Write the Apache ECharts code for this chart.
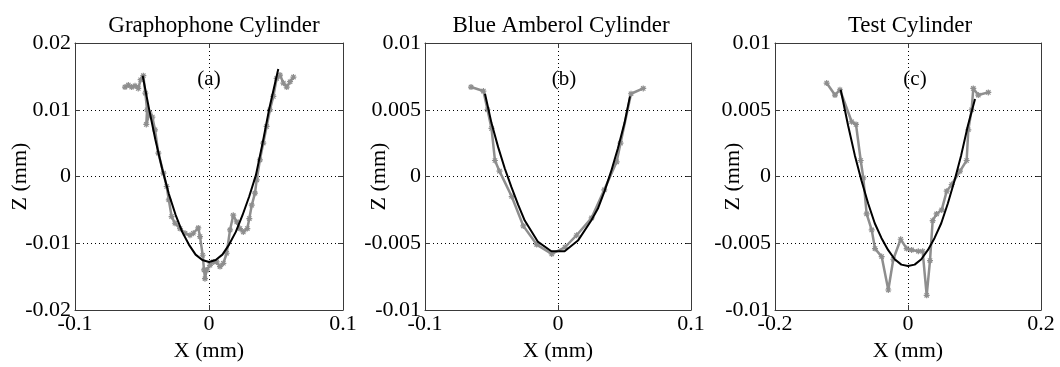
<!DOCTYPE html>
<html>
<head>
<meta charset="utf-8">
<script src="https://cdn.jsdelivr.net/npm/echarts@6/dist/echarts.min.js"></script>
<style>html,body{margin:0;padding:0;background:#fff}#c{width:1060px;height:367px}</style>
</head>
<body>
<div id="c"></div>
<script>
// ---- Panel titles / labels ----
var panelTitles = ['Graphophone Cylinder', 'Blue Amberol Cylinder', 'Test Cylinder'];
var panelTags = ['(a)', '(b)', '(c)'];
var xAxisName = 'X (mm)';
var yAxisName = 'Z (mm)';

// ---- Axis ranges ----
var xMin = [-0.1, -0.1, -0.2], xMax = [0.1, 0.1, 0.2], xStep = [0.1, 0.1, 0.2];
var yMin = [-0.02, -0.01, -0.01], yMax = [0.02, 0.01, 0.01], yStep = [0.01, 0.005, 0.005];

// ---- Panel (a) measured profile ----
var aMeasX = [-0.0627,-0.0602,-0.0577,-0.0552,-0.0528,-0.0510,-0.0490,-0.0475,-0.0462,-0.0468,-0.0443,-0.0423,-0.0403,-0.0378,-0.0340,-0.0316,-0.0300,-0.0279,-0.0254,-0.0216,-0.0179,-0.0142,-0.0117,-0.0080,-0.0067,-0.0047,-0.0037,-0.0030,-0.0017,0.0007,0.0032,0.0057,0.0082,0.0107,0.0132,0.0157,0.0181,0.0207,0.0231,0.0256,0.0286,0.0301,0.0319,0.0343,0.0356,0.0380,0.0405,0.0430,0.0455,0.0480,0.0505,0.0530,0.0555,0.0580,0.0605,0.0630];
var aMeasZ = [0.0134,0.0137,0.0134,0.0136,0.0132,0.0145,0.0151,0.0125,0.0100,0.0078,0.0095,0.0089,0.0070,0.0035,0.0005,-0.0015,-0.0035,-0.0060,-0.0070,-0.0078,-0.0085,-0.0088,-0.0085,-0.0077,-0.0090,-0.0118,-0.0140,-0.0153,-0.0140,-0.0133,-0.0128,-0.0128,-0.0135,-0.0130,-0.0115,-0.0080,-0.0058,-0.0068,-0.0078,-0.0083,-0.0078,-0.0063,-0.0043,-0.0025,-0.0005,0.0025,0.0050,0.0075,0.0100,0.0120,0.0147,0.0152,0.0140,0.0134,0.0142,0.0149];
// ---- Panel (a) fitted curve ----
var aFitX = [-0.0495,-0.045,-0.040,-0.035,-0.030,-0.025,-0.020,-0.015,-0.010,-0.005,0,0.005,0.010,0.015,0.020,0.025,0.030,0.035,0.040,0.045,0.0517];
var aFitZ = [0.0151,0.0104,0.0055,0.0012,-0.0026,-0.0057,-0.0083,-0.0102,-0.0117,-0.0125,-0.0128,-0.0125,-0.0117,-0.0102,-0.0083,-0.0058,-0.0030,0.0002,0.0050,0.0102,0.0161];

// ---- Panel (b) measured profile ----
var bMeasX = [-0.0654,-0.0561,-0.0530,-0.0500,-0.0474,-0.0440,-0.0348,-0.0261,-0.0160,-0.0047,0.0053,0.0140,0.0253,0.0348,0.0441,0.0470,0.0549,0.0641];
var bMeasZ = [0.0067,0.0064,0.0050,0.0036,0.0012,0.0004,-0.0015,-0.0037,-0.0051,-0.0058,-0.0053,-0.0044,-0.0031,-0.0010,0.0011,0.0025,0.0062,0.0066];
// ---- Panel (b) fitted curve ----
var bFitX = [-0.0549,-0.050,-0.045,-0.040,-0.035,-0.030,-0.025,-0.020,-0.015,-0.005,0.005,0.015,0.025,0.030,0.035,0.040,0.045,0.050,0.0541];
var bFitZ = [0.0062,0.0040,0.0022,0.0006,-0.0008,-0.0021,-0.0033,-0.0041,-0.0049,-0.0056,-0.0056,-0.0048,-0.0033,-0.0024,-0.0011,0.0004,0.0021,0.0040,0.0060];

// ---- Panel (c) measured profile ----
var cMeasX = [-0.1223,-0.1098,-0.1023,-0.0847,-0.0782,-0.0711,-0.0672,-0.0622,-0.0546,-0.0496,-0.0396,-0.0296,-0.0221,-0.0110,-0.0020,0.0055,0.0155,0.0220,0.0281,0.0331,0.0371,0.0430,0.0507,0.0582,0.0657,0.0782,0.0882,0.0907,0.0957,0.0982,0.1057,0.1208];
var cMeasZ = [0.0070,0.0061,0.0065,0.0041,0.0039,0.0012,-0.0001,-0.0028,-0.0040,-0.0054,-0.0060,-0.0085,-0.0062,-0.0047,-0.0054,-0.0055,-0.0056,-0.0056,-0.0089,-0.0063,-0.0033,-0.0028,-0.0025,-0.0011,-0.0006,0.0004,0.0012,0.0035,0.0050,0.0066,0.0061,0.0063];
// ---- Panel (c) fitted curve ----
var cFitX = [-0.1012,-0.090,-0.080,-0.070,-0.060,-0.050,-0.040,-0.030,-0.020,-0.010,0,0.010,0.020,0.030,0.040,0.050,0.060,0.070,0.080,0.090,0.1008];
var cFitZ = [0.0065,0.0038,0.0016,-0.0003,-0.0020,-0.0035,-0.0046,-0.0055,-0.0062,-0.0066,-0.0067,-0.0066,-0.0062,-0.0055,-0.0046,-0.0035,-0.0020,-0.0003,0.0016,0.0038,0.0058];

function zip(xs, zs) { return xs.map(function (x, i) { return [x, zs[i]]; }); }

var measured = [zip(aMeasX, aMeasZ), zip(bMeasX, bMeasZ), zip(cMeasX, cMeasZ)];
var fitted = [zip(aFitX, aFitZ), zip(bFitX, bFitZ), zip(cFitX, cFitZ)];

var FONT = 'Liberation Serif';
var FS = 22;
var BOX = '#3a3a3a';
var GRAY = '#8e8e8e';

var gridLefts = [75, 425, 775];
var gridW = [268, 266, 266];
var gridTop = 43, gridH = 267;
var tagCenters = [204, 559, 910];
var titleCenters = [209, 556, 905];
var yNameGaps = [44, 35, 31];

var grids = [], xAxes = [], yAxes = [], series = [], titles = [];
var asterisk = 'path://M0,-5L0,5M-5,0L5,0M-3.6,-3.6L3.6,3.6M-3.6,3.6L3.6,-3.6';

for (var i = 0; i < 3; i++) {
  grids.push({ left: gridLefts[i], top: gridTop, width: gridW[i], height: gridH, show: false, containLabel: false });
  var gridLine = { show: true, lineStyle: { color: '#000', type: [1, 3], width: 1 } };
  xAxes.push({
    gridIndex: i, type: 'value', min: xMin[i], max: xMax[i], interval: xStep[i], position: 'bottom',
    name: xAxisName, nameLocation: 'middle', nameGap: 30, nameMoveOverlap: false,
    nameTextStyle: { fontFamily: FONT, fontSize: FS, color: '#000' },
    axisLine: { show: true, onZero: false, lineStyle: { color: BOX, width: 1 } },
    axisTick: { show: true, inside: true, length: 5, lineStyle: { color: BOX } },
    axisLabel: { fontFamily: FONT, fontSize: FS, color: '#000', margin: 3 },
    splitLine: gridLine
  });
  xAxes.push({
    gridIndex: i, type: 'value', min: xMin[i], max: xMax[i], interval: xStep[i], position: 'top',
    axisLine: { show: true, onZero: false, lineStyle: { color: BOX, width: 1 } },
    axisTick: { show: true, inside: true, length: 5, lineStyle: { color: BOX } },
    axisLabel: { show: false }, splitLine: { show: false }
  });
  yAxes.push({
    gridIndex: i, type: 'value', min: yMin[i], max: yMax[i], interval: yStep[i], position: 'left',
    name: yAxisName, nameLocation: 'middle', nameGap: yNameGaps[i], nameMoveOverlap: false,
    nameTextStyle: { fontFamily: FONT, fontSize: FS, color: '#000' },
    axisLine: { show: true, onZero: false, lineStyle: { color: BOX, width: 1 } },
    axisTick: { show: true, inside: true, length: 5, lineStyle: { color: BOX } },
    axisLabel: { fontFamily: FONT, fontSize: FS, color: '#000', margin: 4 },
    splitLine: gridLine
  });
  yAxes.push({
    gridIndex: i, type: 'value', min: yMin[i], max: yMax[i], interval: yStep[i], position: 'right',
    axisLine: { show: true, onZero: false, lineStyle: { color: BOX, width: 1 } },
    axisTick: { show: true, inside: true, length: 5, lineStyle: { color: BOX } },
    axisLabel: { show: false }, splitLine: { show: false }
  });
  series.push({
    type: 'line', xAxisIndex: 2 * i, yAxisIndex: 2 * i, data: measured[i],
    symbol: asterisk, symbolSize: 6, showSymbol: true,
    lineStyle: { color: GRAY, width: 2.5 },
    itemStyle: { color: GRAY, borderColor: GRAY, borderWidth: 1.2 },
    animation: false, silent: true, z: 2
  });
  series.push({
    type: 'line', xAxisIndex: 2 * i, yAxisIndex: 2 * i, data: fitted[i],
    symbol: 'none', smooth: false,
    lineStyle: { color: '#000', width: 2 },
    animation: false, silent: true, z: 3
  });
  titles.push({
    text: panelTitles[i], left: titleCenters[i], top: 9, textAlign: 'center',
    textStyle: { fontFamily: FONT, fontSize: FS + 1, fontWeight: 'normal', color: '#000' }
  });
  titles.push({
    text: panelTags[i], left: tagCenters[i], top: 64, textAlign: 'center',
    textStyle: { fontFamily: FONT, fontSize: FS - 1, fontWeight: 'normal', color: '#000' }
  });
}

var chart = echarts.init(document.getElementById('c'), null, { renderer: 'canvas' });
chart.setOption({
  backgroundColor: '#fff',
  animation: false,
  title: titles,
  grid: grids,
  xAxis: xAxes,
  yAxis: yAxes,
  series: series
});
</script>
</body>
</html>
